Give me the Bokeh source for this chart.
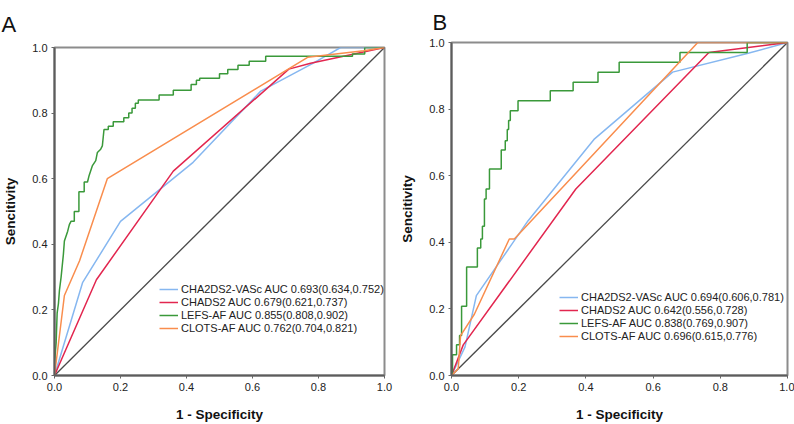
from bokeh.plotting import figure
from bokeh.layouts import row, column
from bokeh.models import Range1d, FixedTicker, Legend, Title
from bokeh.embed import file_html
from bokeh.resources import INLINE

# ---------------- data ----------------
tick_values = [0.0, 0.2, 0.4, 0.6, 0.8, 1.0]
tick_labels = {0.0: "0.0", 0.2: "0.2", 0.4: "0.4", 0.6: "0.6", 0.8: "0.8", 1.0: "1.0"}

labels_A = ["CHA2DS2-VASc AUC 0.693(0.634,0.752)",
            "CHADS2 AUC 0.679(0.621,0.737)",
            "LEFS-AF AUC 0.855(0.808,0.902)",
            "CLOTS-AF AUC 0.762(0.704,0.821)"]
labels_B = ["CHA2DS2-VASc AUC 0.694(0.606,0.781)",
            "CHADS2 AUC 0.642(0.556,0.728)",
            "LEFS-AF AUC 0.838(0.769,0.907)",
            "CLOTS-AF AUC 0.696(0.615,0.776)"]

# Panel A ROC points
a_cha2_fpr = [0, 0.085, 0.20, 0.42, 0.625, 0.78, 0.867, 1.0]
a_cha2_tpr = [0, 0.283, 0.47, 0.65, 0.867, 0.95, 1.0, 1.0]
a_chads_fpr = [0, 0.127, 0.36, 0.71, 0.776, 1.0]
a_chads_tpr = [0, 0.292, 0.623, 0.934, 0.952, 1.0]
a_lefs_fpr = [0, 0, 0.005, 0.008, 0.012, 0.015, 0.02, 0.027, 0.03, 0.04, 0.045, 0.05, 0.06, 0.06, 0.074, 0.074,
              0.09, 0.09, 0.1, 0.105, 0.115, 0.125, 0.13, 0.14, 0.145, 0.15, 0.163, 0.163, 0.178, 0.178,
              0.21, 0.21, 0.225, 0.225, 0.235, 0.235, 0.245, 0.245, 0.254, 0.254, 0.317, 0.317, 0.36, 0.36,
              0.414, 0.414, 0.43, 0.43, 0.44, 0.44, 0.5, 0.5, 0.525, 0.525, 0.556, 0.556, 0.59, 0.59,
              0.64, 0.64, 0.903, 0.903, 0.94, 0.94, 1.0]
a_lefs_tpr = [0, 0.04, 0.1, 0.19, 0.22, 0.26, 0.30, 0.37, 0.41, 0.44, 0.46, 0.47, 0.47, 0.50, 0.50, 0.56,
              0.56, 0.59, 0.59, 0.61, 0.64, 0.655, 0.68, 0.69, 0.70, 0.75, 0.75, 0.76, 0.76, 0.774,
              0.774, 0.786, 0.786, 0.80, 0.80, 0.815, 0.815, 0.83, 0.83, 0.84, 0.84, 0.855, 0.855, 0.87,
              0.87, 0.887, 0.887, 0.90, 0.90, 0.906, 0.906, 0.92, 0.92, 0.933, 0.933, 0.946, 0.946, 0.958,
              0.958, 0.973, 0.973, 0.98, 0.98, 1.0, 1.0]
a_clots_fpr = [0, 0.03, 0.076, 0.16, 0.767, 0.937, 1.0]
a_clots_tpr = [0, 0.244, 0.35, 0.60, 0.97, 0.99, 1.0]

# Panel B ROC points
b_cha2_fpr = [0, 0.04, 0.074, 0.228, 0.424, 0.658, 0.88, 1.0]
b_cha2_tpr = [0, 0.085, 0.24, 0.465, 0.709, 0.911, 0.967, 1.0]
b_chads_fpr = [0, 0.035, 0.37, 0.766, 1.0]
b_chads_tpr = [0, 0.092, 0.56, 0.97, 1.0]
b_lefs_fpr = [0, 0.003, 0.003, 0.015, 0.015, 0.024, 0.024, 0.03, 0.03, 0.045, 0.045, 0.077, 0.077, 0.087,
              0.087, 0.092, 0.092, 0.098, 0.098, 0.103, 0.103, 0.113, 0.113, 0.148, 0.148, 0.16, 0.16,
              0.166, 0.166, 0.17, 0.17, 0.175, 0.175, 0.198, 0.198, 0.294, 0.294, 0.362, 0.362, 0.436,
              0.436, 0.499, 0.499, 0.68, 0.68, 0.88, 0.88, 1.0]
b_lefs_tpr = [0, 0, 0.062, 0.062, 0.092, 0.092, 0.12, 0.12, 0.208, 0.208, 0.326, 0.326, 0.383, 0.383,
              0.41, 0.41, 0.448, 0.448, 0.53, 0.53, 0.56, 0.56, 0.62, 0.62, 0.677, 0.677, 0.705,
              0.705, 0.739, 0.739, 0.766, 0.766, 0.795, 0.795, 0.825, 0.825, 0.855, 0.855, 0.881, 0.881,
              0.911, 0.911, 0.941, 0.941, 0.97, 0.97, 1.0, 1.0]
b_clots_fpr = [0, 0.02, 0.027, 0.068, 0.172, 0.187, 0.733, 1.0]
b_clots_tpr = [0, 0.02, 0.12, 0.184, 0.41, 0.41, 1.0, 1.0]

ref_line = [0.0, 1.0]

colors = ["#86b7f0", "#e2264f", "#3a993a", "#f98d4d"]
FONT = "Liberation Sans"


def make_panel(letter, curves, labels, width, height, left, right, top, bottom, letter_offset, letter_standoff, legend_xy):
    p = figure(width=width, height=height, output_backend="svg", toolbar_location=None,
               x_range=Range1d(0, 1), y_range=Range1d(0, 1),
               min_border_left=left, min_border_right=right, min_border_top=top, min_border_bottom=bottom,
               background_fill_color="white", border_fill_color="white")
    p.grid.visible = False
    p.outline_line_color = "#8c8c8c"
    p.outline_line_width = 2
    p.title = Title(text=letter, align="left", offset=letter_offset, text_font=FONT,
                    text_font_size="22px", text_font_style="normal", text_color="#111111",
                    standoff=letter_standoff, vertical_align="top")

    p.line(ref_line, ref_line, line_color="#4a4a4a", line_width=1.3)
    renderers = []
    for (fx, ty), col in zip(curves, colors):
        r = p.line(fx, ty, line_color=col, line_width=1.5)
        renderers.append(r)

    for ax in (p.xaxis[0], p.yaxis[0]):
        ax.ticker = FixedTicker(ticks=tick_values)
        ax.major_label_overrides = tick_labels
        ax.minor_tick_line_color = None
        ax.major_tick_out = 3
        ax.major_tick_in = 0
        ax.major_tick_line_color = "#666666"
        ax.axis_line_color = "#5c5c5c"
        ax.axis_line_width = 2
        ax.major_label_text_font = FONT
        ax.major_label_text_font_size = "11px"
        ax.major_label_text_color = "#222222"
        ax.axis_label_text_font = FONT
        ax.axis_label_text_font_style = "bold"
        ax.axis_label_text_font_size = "13.5px"
        ax.axis_label_text_color = "#111111"
    p.xaxis.axis_label = "1 - Specificity"
    p.yaxis.axis_label = "Sencitivity"
    p.xaxis.major_label_standoff = 4
    p.yaxis.major_label_standoff = 4
    p.xaxis.axis_label_standoff = 13
    p.yaxis.axis_label_standoff = 11

    legend = Legend(items=[(lab, [r]) for lab, r in zip(labels, renderers)], location=legend_xy)
    legend.background_fill_alpha = 0
    legend.border_line_alpha = 0
    legend.padding = 0
    legend.margin = 0
    legend.spacing = 1
    legend.glyph_width = 19
    legend.glyph_height = 12
    legend.label_height = 12
    legend.label_standoff = 3
    legend.label_text_font = FONT
    legend.label_text_font_size = "11px"
    legend.label_text_color = "#222222"
    p.add_layout(legend, "center")
    return p


pA = make_panel("A",
                [(a_cha2_fpr, a_cha2_tpr), (a_chads_fpr, a_chads_tpr), (a_lefs_fpr, a_lefs_tpr), (a_clots_fpr, a_clots_tpr)],
                labels_A, 397, 424, 53, 13, 47, 45, -53, 17, (105, 41))
pB = make_panel("B",
                [(b_cha2_fpr, b_cha2_tpr), (b_chads_fpr, b_chads_tpr), (b_lefs_fpr, b_lefs_tpr), (b_clots_fpr, b_clots_tpr)],
                labels_B, 397, 424, 53, 7, 42, 45, -19, 12, (108, 33))

layout = row(column(pA), column(pB))
open("out.html", "w").write(file_html(layout, INLINE))
